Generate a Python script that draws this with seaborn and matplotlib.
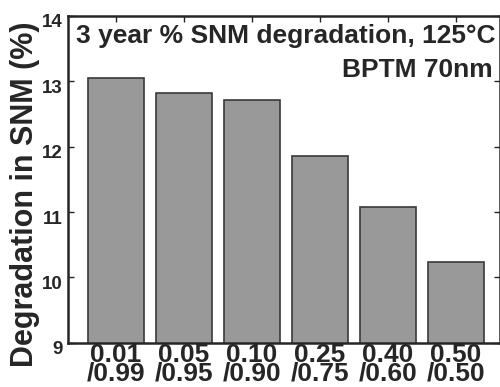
import pandas as pd
import numpy as np
import matplotlib
matplotlib.use('Agg')
import matplotlib.pyplot as plt
import matplotlib.transforms as mtransforms
import seaborn as sns

# SNM degradation per duty-cycle pair
categories = ['0.01\n/0.99', '0.05\n/0.95', '0.10\n/0.90', '0.25\n/0.75', '0.40\n/0.60', '0.50\n/0.50']
degradation = [13.05, 12.82, 12.72, 11.85, 11.07, 10.23]

df = pd.DataFrame({'ratio': categories, 'deg': degradation})

sns.set_style('ticks')
plt.rcParams['font.family'] = ['Liberation Sans', 'DejaVu Sans']
plt.rcParams['font.weight'] = 'bold'

fig = plt.figure(figsize=(5, 3.87), dpi=100)
ax = fig.add_axes([0.136, 0.114, 0.864, 0.845])

sns.barplot(data=df, x='ratio', y='deg', color='#999999', edgecolor='#3a3a3a',
            linewidth=1.2, width=0.82, saturation=1, ax=ax)

ax.set_ylim(9, 14)
ax.set_xlim(-0.706, 5.65)
ax.set_yticks([9, 10, 11, 12, 13, 14])
ax.tick_params(axis='y', labelsize=13.5, direction='in', right=True, length=4, width=1, pad=4)
ax.tick_params(axis='x', labelsize=19, direction='in', top=True, length=4, width=1, pad=0)
for lbl in ax.get_xticklabels() + ax.get_yticklabels():
    lbl.set_fontweight('bold')
for lbl in ax.get_xticklabels():
    lbl.set_linespacing(0.74)

# y tick labels sit a little below their ticks in the original
shift = mtransforms.ScaledTranslation(0, -0.05, fig.dpi_scale_trans)
for lbl in ax.get_yticklabels():
    lbl.set_transform(lbl.get_transform() + shift)

ax.set_xlabel('')
ax.set_ylabel('')
fig.text(0.05, 0.497, 'Degradation in SNM (%)', rotation=90, ha='center', va='center',
         fontsize=22, fontweight='bold')

for s in ax.spines.values():
    s.set_linewidth(1.8)
    s.set_visible(True)

ax.text(0.99, 0.917, '3 year % SNM degradation, 125°C', transform=ax.transAxes,
        ha='right', va='baseline', fontsize=19, fontweight='bold')
ax.text(0.982, 0.813, 'BPTM 70nm', transform=ax.transAxes,
        ha='right', va='baseline', fontsize=19, fontweight='bold')

fig.savefig('out.png', dpi=100)
